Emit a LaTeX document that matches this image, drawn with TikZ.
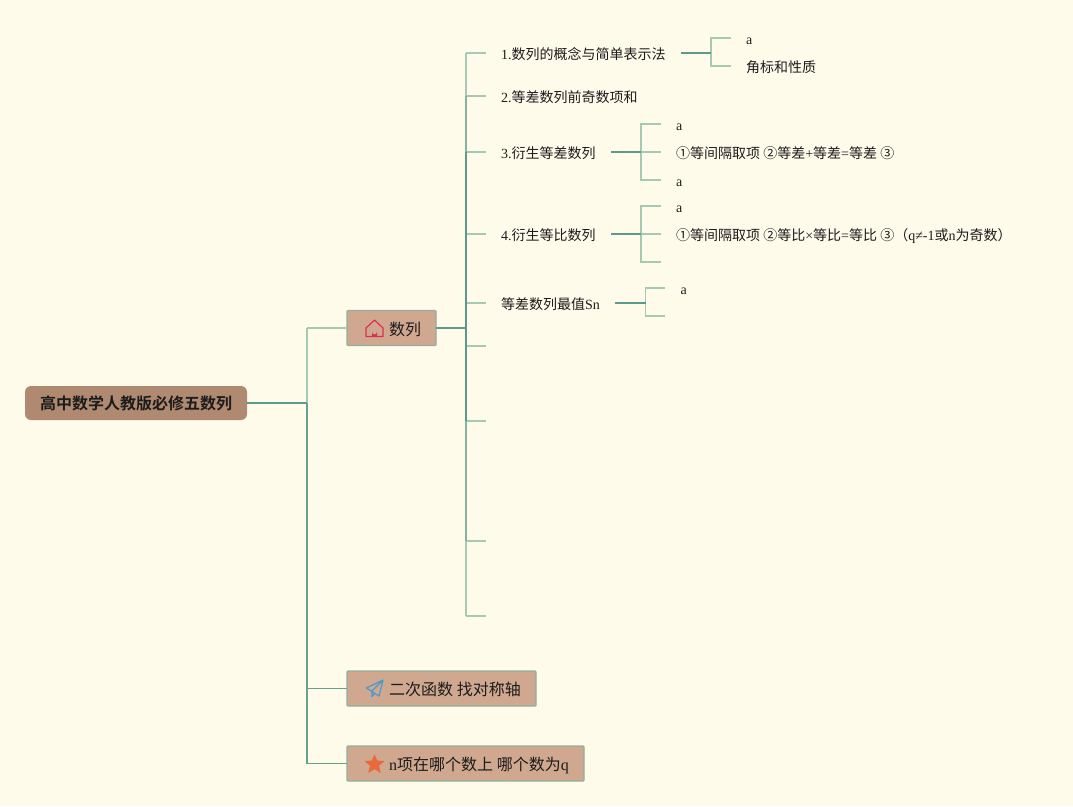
\documentclass[tikz,border=0pt]{standalone}
\usepackage{fontspec}
\setmainfont{Liberation Serif}
\newfontfamily\cjk{Noto Sans CJK SC}
\newcommand{\zh}[1]{{\cjk #1}}
\definecolor{bgc}{HTML}{FFFBEB}
\definecolor{boxc}{HTML}{CFA88F}
\definecolor{rootc}{HTML}{B08A70}
\definecolor{edgec}{HTML}{8FB09C}
\definecolor{lightl}{HTML}{A7C9B3}
\definecolor{midl}{HTML}{83B3A1}
\definecolor{darkl}{HTML}{5E9A8B}
\definecolor{inkc}{HTML}{1C1C1C}
\definecolor{housec}{HTML}{DC3050}
\definecolor{planec}{HTML}{4A9ACD}
\definecolor{starc}{HTML}{E8693A}
\tikzset{
  x=1pt,y=-1pt,
  txt/.style={anchor=base west,inner sep=0pt,font=\fontsize{14}{16}\selectfont,text=inkc},
  small/.style={anchor=base west,inner sep=0pt,font=\fontsize{14}{16}\selectfont,text=inkc},
  topictxt/.style={anchor=base west,inner sep=0pt,font=\fontsize{16}{18}\selectfont,text=inkc},
  topicbox/.style={draw=edgec,line width=1.4pt,fill=boxc,rounded corners=1pt,inner sep=0pt,outer sep=0pt,anchor=north west},
  rootbox/.style={fill=rootc,rounded corners=6pt,inner sep=0pt,outer sep=0pt,anchor=north west},
  leaf/.style={draw=lightl,line width=1.3pt},
  midline/.style={draw=midl,line width=1.4pt},
  thinmid/.style={draw=darkl!85!lightl,line width=1.1pt},
  stem/.style={draw=darkl,line width=1.7pt},
}
\begin{document}
\begin{tikzpicture}
\useasboundingbox[fill=bgc] (0,0) rectangle (1073,806);

% boxes
\node[rootbox,minimum width=222pt,minimum height=34pt] (root) at (25,386) {};
\node[anchor=base,inner sep=0pt,font=\fontsize{16}{18}\selectfont,text=inkc] (roott) at (136,409) {\zh{\fontspec{Noto Sans CJK SC Bold}高中数学人教版必修五数列}};
\node[topicbox,minimum width=89pt,minimum height=35pt] (t1) at (347,310.5) {};
\node[topicbox,minimum width=189pt,minimum height=35pt] (t2) at (347,671) {};
\node[topicbox,minimum width=237pt,minimum height=35pt] (t3) at (347,746) {};
\node[topictxt] (t1t) at (389,335) {\zh{数列}};
\node[topictxt] (t2t) at (389,695) {\zh{二次函数 找对称轴}};
\node[topictxt] (t3t) at (389,770) {n\zh{项在哪个数上 哪个数为}q};

% icons
\draw[draw=housec,line width=1.2pt,line join=round] (366,328) -- (374.5,320) -- (383,328) -- (383,336.5) -- (366,336.5) -- cycle;
\fill[housec] (372,336.5) -- (372,332) arc[start angle=180,end angle=0,radius=2.5] -- (377,336.5) -- cycle;
\draw[draw=planec,line width=1.2pt,line join=round] (366.5,688) -- (383,680) -- (379,696) -- (366.5,688) (383,680) -- (372,691) -- (372,696.5) -- (375,693);
\fill[starc,draw=starc,line width=.6pt,line join=round] (374.5,755) -- (377,760.8) -- (383.8,761.3) -- (378.6,765.6) -- (380.3,772.3) -- (374.5,768.7) -- (368.7,772.3) -- (370.4,765.6) -- (365.2,761.3) -- (372,760.8) -- cycle;

% level 1 texts
\node[txt] (n1) at (501,59) {1.\zh{数列的概念与简单表示法}};
\node[txt] (n2) at (501,102) {2.\zh{等差数列前奇数项和}};
\node[txt] (n3) at (501,158) {3.\zh{衍生等差数列}};
\node[txt] (n4) at (501,240) {4.\zh{衍生等比数列}};
\node[txt] (n5) at (501,309) {\zh{等差数列最值}Sn};

% level 2 texts
\node[small] (a1) at (746,44) {a};
\node[txt] (a2) at (746,72) {\zh{角标和性质}};
\node[small] (b1) at (676,130) {a};
\node[txt] (b2) at (676,158) {\zh{①等间隔取项 ②等差}+\zh{等差}=\zh{等差 ③}};
\node[small] (b3) at (676,186) {a};
\node[small] (c1) at (676,212) {a};
\node[txt] (c2) at (676,240) {\zh{①等间隔取项 ②等比}×\zh{等比}=\zh{等比 ③（}q≠-1\zh{或}n\zh{为奇数）}};
\node[small] (d1) at (680.5,294) {a};

% free ends and junctions
\coordinate (J0) at (307,403);
\coordinate (J1) at (466,328);
\coordinate (J2) at (711,53);
\coordinate (J3) at (641,152);
\coordinate (J4) at (641,234);
\coordinate (J5) at (645.5,303);
\coordinate (e1) at (486,53);
\coordinate (e2) at (486,96);
\coordinate (e3) at (486,152);
\coordinate (e4) at (486,234);
\coordinate (e5) at (486,303);
\coordinate (e6) at (486,346);
\coordinate (e7) at (486,421);
\coordinate (e8) at (486,541);
\coordinate (e9) at (486,616);
\coordinate (f1) at (731,38);
\coordinate (f2) at (731,66);
\coordinate (g1) at (661,124);
\coordinate (g2) at (661,152);
\coordinate (g3) at (661,180);
\coordinate (h1) at (661,206);
\coordinate (h2) at (661,234);
\coordinate (h3) at (661,262);
\coordinate (k1) at (665,288);
\coordinate (k2) at (665,316);
\coordinate (s1) at (681,53);
\coordinate (s3) at (611,152);
\coordinate (s4) at (611,234);
\coordinate (s5) at (615,303);

% root spine
\draw[leaf] (J0 |- t1.west) -- (t1.west);
\draw[leaf] (J0) -- (J0 |- t1.west);
\draw[thinmid] (J0 |- t2.west) -- (t2.west);
\draw[thinmid] (J0 |- t3.west) -- (t3.west);
\draw[thinmid] (J0) -- (J0 |- t3.west);
\draw[stem] (root.east) -- (J0 |- root.east);

% first topic spine
\draw[leaf] (J1 |- e1) -- (e1);
\draw[leaf] (J1 |- e2) -- (e2);
\draw[leaf] (J1 |- e3) -- (e3);
\draw[leaf] (J1 |- e4) -- (e4);
\draw[leaf] (J1 |- e5) -- (e5);
\draw[leaf] (J1 |- e6) -- (e6);
\draw[leaf] (J1 |- e7) -- (e7);
\draw[leaf] (J1 |- e8) -- (e8);
\draw[leaf] (J1 |- e9) -- (e9);
\draw[leaf] (J1 |- e1) -- (J1 |- e2);
\draw[midline] (J1 |- e2) -- (J1 |- e3);
\draw[stem] (J1 |- e3) -- (J1 |- e7);
\draw[midline] (J1 |- e7) -- (J1 |- e8);
\draw[leaf] (J1 |- e8) -- (J1 |- e9);
\draw[stem] (t1.east) -- (J1 |- t1.east);

% second level brackets
\draw[leaf] (f1) -- (J2 |- f1) -- (J2 |- f2) -- (f2);
\draw[stem] (s1) -- (J2);
\draw[leaf] (g1) -- (J3 |- g1) -- (J3 |- g3) -- (g3);
\draw[leaf] (J3) -- (g2);
\draw[stem] (s3) -- (J3);
\draw[leaf] (h1) -- (J4 |- h1) -- (J4 |- h3) -- (h3);
\draw[leaf] (J4) -- (h2);
\draw[stem] (s4) -- (J4);
\draw[leaf] (k1) -- (J5 |- k1) -- (J5 |- k2) -- (k2);
\draw[stem] (s5) -- (J5);
\end{tikzpicture}
\end{document}
